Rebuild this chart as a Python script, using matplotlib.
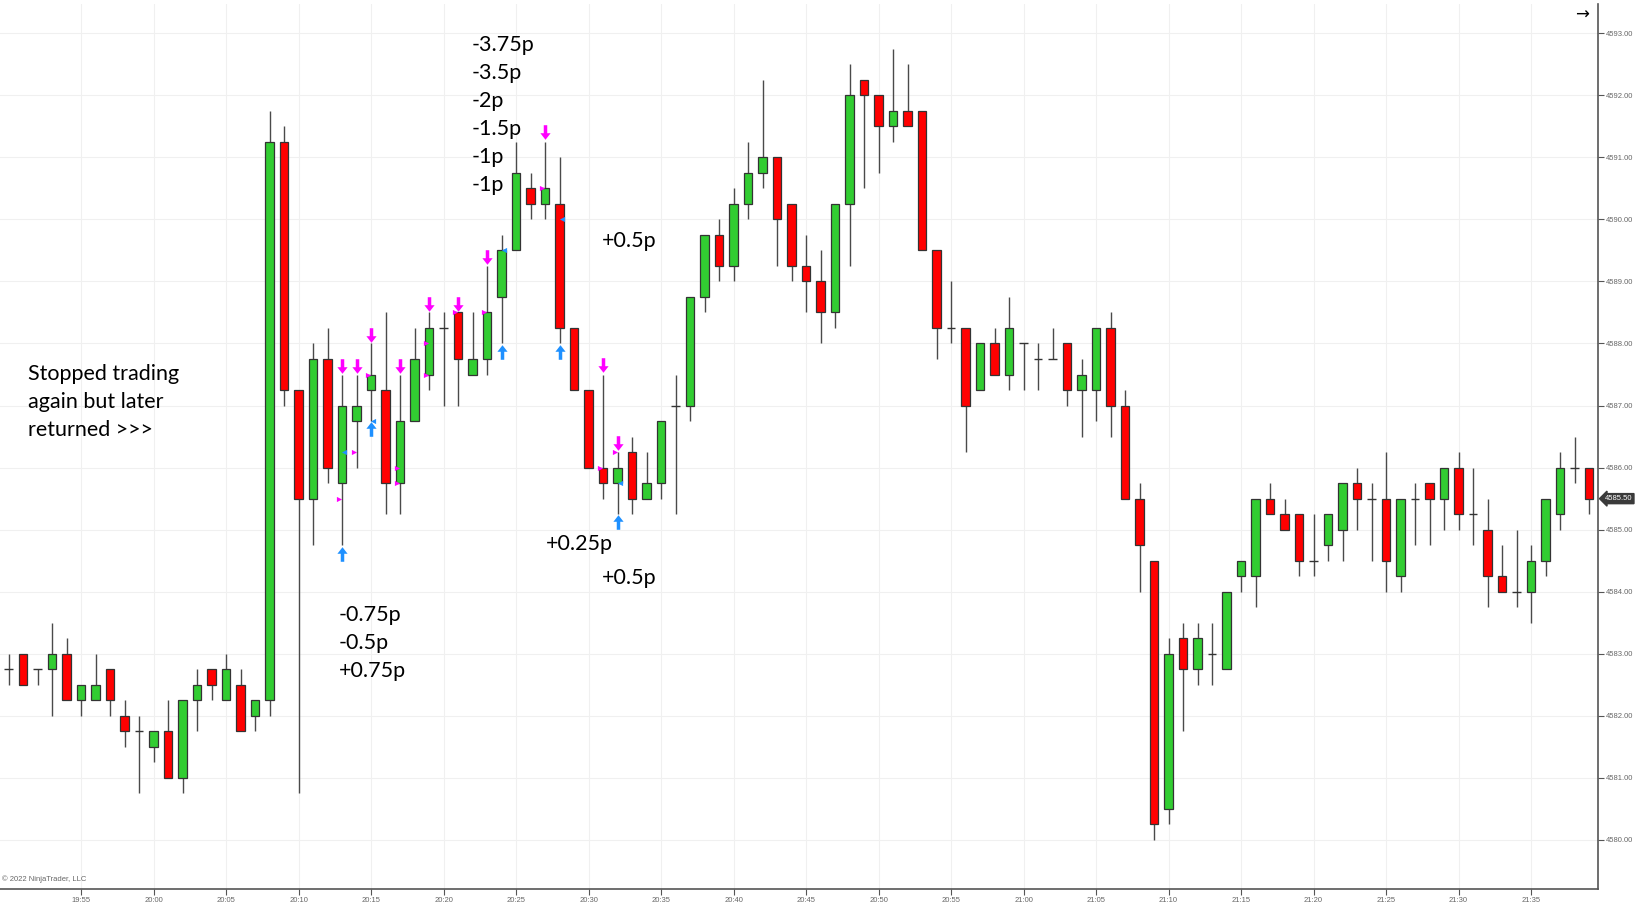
import matplotlib
matplotlib.use("Agg")
import matplotlib.pyplot as plt
import numpy as np
import pandas as pd
from matplotlib.path import Path

# 1-minute bars, 19:50 .. 21:39
bar_times = pd.date_range("2022-01-01 19:50", periods=110, freq="min")

opens = [
    4582.75, 4583, 4582.75, 4582.75, 4583, 4582.25, 4582.25, 4582.75, 4582, 4581.75,
    4581.5, 4581.75, 4581, 4582.25, 4582.75, 4582.25, 4582.5, 4582, 4582.25, 4591.25,
    4587.25, 4585.5, 4587.75, 4585.75, 4586.75, 4587.25, 4587.25, 4585.75, 4586.75, 4587.5,
    4588.25, 4588.5, 4587.5, 4587.75, 4588.75, 4589.5, 4590.5, 4590.25, 4590.25, 4588.25,
    4587.25, 4586, 4585.75, 4586.25, 4585.5, 4585.75, 4587, 4587, 4588.75, 4589.75,
    4589.25, 4590.25, 4590.75, 4591, 4590.25, 4589.25, 4589, 4588.5, 4590.25, 4592.25,
    4592, 4591.5, 4591.75, 4591.75, 4589.5, 4588.25, 4588.25, 4587.25, 4588, 4587.5,
    4588, 4587.75, 4587.75, 4588, 4587.25, 4587.25, 4588.25, 4587, 4585.5, 4584.5,
    4580.5, 4583.25, 4582.75, 4583, 4582.75, 4584.25, 4584.25, 4585.5, 4585.25, 4585.25,
    4584.5, 4584.75, 4585, 4585.75, 4585.5, 4585.5, 4584.25, 4585.5, 4585.75, 4585.5,
    4586, 4585.25, 4585, 4584.25, 4584, 4584, 4584.5, 4585.25, 4586, 4586,
]
highs = [
    4583, 4583, 4582.75, 4583.5, 4583.25, 4582.5, 4583, 4582.75, 4582.25, 4582,
    4581.75, 4582.25, 4582.25, 4582.75, 4582.75, 4583, 4582.75, 4582.25, 4591.75, 4591.5,
    4587.25, 4588, 4588.25, 4587.5, 4587.5, 4588, 4588.5, 4587.5, 4588.25, 4588.5,
    4588.5, 4588.5, 4588.5, 4589.25, 4589.75, 4591.25, 4590.75, 4591.25, 4591, 4588.25,
    4587.25, 4587.5, 4586.25, 4586.5, 4586.25, 4586.75, 4587.5, 4588.75, 4589.75, 4590,
    4590.5, 4591.25, 4592.25, 4591, 4590.25, 4589.75, 4589.5, 4590.25, 4592.5, 4592.25,
    4592, 4592.75, 4592.5, 4591.75, 4589.5, 4589, 4588.25, 4588, 4588.25, 4588.75,
    4588, 4588, 4588.25, 4588, 4587.75, 4588.25, 4588.5, 4587.25, 4585.75, 4584.5,
    4583.25, 4583.5, 4583.5, 4583.5, 4584, 4584.5, 4585.5, 4585.75, 4585.5, 4585.25,
    4585.25, 4585.25, 4585.75, 4586, 4585.75, 4586.25, 4585.5, 4585.75, 4585.75, 4586,
    4586.25, 4586, 4585.5, 4584.75, 4585, 4584.75, 4585.5, 4586.25, 4586.5, 4586,
]
lows = [
    4582.5, 4582.5, 4582.5, 4582, 4582.25, 4582, 4582.25, 4582, 4581.5, 4580.75,
    4581.25, 4581, 4580.75, 4581.75, 4582.25, 4582.25, 4581.75, 4581.75, 4582, 4587,
    4580.75, 4584.75, 4585.75, 4584.75, 4586, 4586.75, 4585.25, 4585.25, 4586.75, 4587.25,
    4587, 4587, 4587.5, 4587.5, 4588, 4589.5, 4590, 4590, 4588, 4587.25,
    4586, 4585.5, 4585.25, 4585.25, 4585.5, 4585.5, 4585.25, 4586.75, 4588.5, 4589,
    4589, 4590, 4590.5, 4589.25, 4589, 4588.5, 4588, 4588.25, 4589.25, 4590.5,
    4590.75, 4591.25, 4591.5, 4589.5, 4587.75, 4588, 4586.25, 4587.25, 4587.5, 4587.25,
    4587.25, 4587.25, 4587.75, 4587, 4586.5, 4586.75, 4586.5, 4585.5, 4584, 4580,
    4580.25, 4581.75, 4582.5, 4582.5, 4582.75, 4584, 4583.75, 4585.25, 4585, 4584.25,
    4584.25, 4584.5, 4584.5, 4585, 4584.5, 4584, 4584, 4584.75, 4584.75, 4585,
    4585, 4584.75, 4583.75, 4584, 4583.75, 4583.5, 4584.25, 4585, 4585.75, 4585.25,
]
closes = [
    4582.75, 4582.5, 4582.75, 4583, 4582.25, 4582.5, 4582.5, 4582.25, 4581.75, 4581.75,
    4581.75, 4581, 4582.25, 4582.5, 4582.5, 4582.75, 4581.75, 4582.25, 4591.25, 4587.25,
    4585.5, 4587.75, 4586, 4587, 4587, 4587.5, 4585.75, 4586.75, 4587.75, 4588.25,
    4588.25, 4587.75, 4587.75, 4588.5, 4589.5, 4590.75, 4590.25, 4590.5, 4588.25, 4587.25,
    4586, 4585.75, 4586, 4585.5, 4585.75, 4586.75, 4587, 4588.75, 4589.75, 4589.25,
    4590.25, 4590.75, 4591, 4590, 4589.25, 4589, 4588.5, 4590.25, 4592, 4592,
    4591.5, 4591.75, 4591.5, 4589.5, 4588.25, 4588.25, 4587, 4588, 4587.5, 4588.25,
    4588, 4587.75, 4587.75, 4587.25, 4587.5, 4588.25, 4587, 4585.5, 4584.75, 4580.25,
    4583, 4582.75, 4583.25, 4583, 4584, 4584.5, 4585.5, 4585.25, 4585, 4584.5,
    4584.5, 4585.25, 4585.75, 4585.5, 4585.5, 4584.5, 4585.5, 4585.5, 4585.5, 4586,
    4585.25, 4585.25, 4584.25, 4584, 4584, 4584.5, 4585.5, 4586, 4586, 4585.5,
]

# strategy markers (time, price)
sell_arrow_t = ["20:13", "20:14", "20:15", "20:17", "20:19", "20:21", "20:23", "20:27", "20:31", "20:32"]
sell_arrow_y = [4587.63, 4587.63, 4588.13, 4587.63, 4588.64, 4588.64, 4589.39, 4591.4, 4587.65, 4586.39]
buy_arrow_t = ["20:13", "20:15", "20:24", "20:28", "20:32"]
buy_arrow_y = [4584.61, 4586.62, 4587.87, 4587.87, 4585.12]
exit_short_t = ["20:13", "20:14", "20:15", "20:17", "20:17", "20:19", "20:19", "20:21", "20:23", "20:27", "20:31", "20:32"]
exit_short_y = [4585.5, 4586.25, 4587.5, 4586, 4585.75, 4588, 4587.5, 4588.5, 4588.5, 4590.5, 4586, 4586.25]
exit_long_t = ["20:13", "20:15", "20:24", "20:28", "20:32"]
exit_long_y = [4586.25, 4586.75, 4589.5, 4590, 4585.75]

# text notes: (text, x px, y px)
notes = [
    ("-3.75p", 472, 45), ("-3.5p", 472, 73), ("-2p", 472, 101),
    ("-1.5p", 472, 129), ("-1p", 472, 157), ("-1p", 472, 185),
    ("+0.5p", 602, 241), ("+0.25p", 546, 544), ("+0.5p", 602, 578),
    ("-0.75p", 339, 615), ("-0.5p", 339, 643), ("+0.75p", 339, 671),
    ("Stopped trading", 28, 374), ("again but later", 28, 402), ("returned >>>", 28, 430),
]

W, H = 1636, 907
small_font = ["Liberation Sans", "DejaVu Sans"]
fig = plt.figure(figsize=(W / 100, H / 100), dpi=100)
ax = fig.add_axes([0, 1 - 889 / H, 1598 / W, 885 / H])

t0 = bar_times[0]
def idx(hhmm):
    t = pd.Timestamp("2022-01-01 " + hhmm)
    return (t - t0).total_seconds() / 60

x = np.arange(len(bar_times))
o = np.array(opens); h = np.array(highs); l = np.array(lows); c = np.array(closes)

up = c > o
dn = c < o
flat = c == o

# wicks
ax.vlines(x, l, h, color="#4a4a4a", lw=1.0, zorder=2)
# bodies
body_w = 0.57
ax.bar(x[up], (c - o)[up], bottom=o[up], width=body_w, color="#32cd32",
       edgecolor="#333333", linewidth=0.9, zorder=3)
ax.bar(x[dn], (o - c)[dn], bottom=c[dn], width=body_w, color="#ff0000",
       edgecolor="#333333", linewidth=0.9, zorder=3)
ax.hlines(c[flat], x[flat] - body_w / 2, x[flat] + body_w / 2, color="#333333", lw=1.0, zorder=3)

# arrow markers
down_arrow = Path([(-0.12, 0.5), (0.12, 0.5), (0.12, -0.05), (0.35, -0.05), (0, -0.5),
                   (-0.35, -0.05), (-0.12, -0.05), (-0.12, 0.5)])
up_arrow = Path([(vx, -vy) for vx, vy in down_arrow.vertices])
ax.scatter([idx(t) for t in sell_arrow_t], sell_arrow_y, marker=down_arrow, s=110,
           color="#ff00ff", linewidths=0, zorder=5)
ax.scatter([idx(t) for t in buy_arrow_t], buy_arrow_y, marker=up_arrow, s=110,
           color="#1e90ff", linewidths=0, zorder=5)
ax.scatter([idx(t) - 0.2 for t in exit_short_t], exit_short_y, marker=">", s=14,
           color="#ff00ff", linewidths=0, zorder=5)
ax.scatter([idx(t) + 0.15 for t in exit_long_t], exit_long_y, marker="<", s=14,
           color="#1e90ff", linewidths=0, zorder=5)

# axes styling
ax.set_xlim(-0.59, 109.62)
ax.set_ylim(4579.21, 4593.47)
for s in ["left", "top"]:
    ax.spines[s].set_visible(False)
for s in ["right", "bottom"]:
    ax.spines[s].set_color("#555555")
    ax.spines[s].set_linewidth(1.2)

ax.yaxis.tick_right()
yt = np.arange(4580, 4594)
ax.set_yticks(yt)
ax.set_yticklabels(["%.2f" % v for v in yt])
xt = np.arange(5, 110, 5)
ax.set_xticks(xt)
ax.set_xticklabels([bar_times[i].strftime("%H:%M") for i in xt])
ax.tick_params(axis="both", colors="#555555", length=4, width=0.8, labelsize=5.5,
               labelcolor="#666666", pad=2)
for lab in ax.get_xticklabels() + ax.get_yticklabels():
    lab.set_family(small_font)
ax.grid(True, color="#f0f0f0", lw=0.8, zorder=0)
ax.set_axisbelow(True)

# last price tag
ax.annotate("%.2f" % closes[-1], xy=(1.0, closes[-1]), xycoords=("axes fraction", "data"),
            xytext=(5, 0), textcoords="offset points", va="center", ha="left",
            fontsize=5.5, color="white", family=small_font,
            bbox=dict(boxstyle="larrow,pad=0.2", fc="#3a3a3a", ec="#3a3a3a"),
            annotation_clip=False)

for txt, px, py in notes:
    fig.text(px / W, 1 - py / H, txt, fontsize=15.5, family=["Lato", "DejaVu Sans"],
             va="center", ha="left", color="black")

fig.text(2 / W, 1 - 879 / H, "\u00a9 2022 NinjaTrader, LLC", fontsize=5.5, color="#666666",
         family=small_font, va="center")
fig.text(1582 / W, 1 - 15 / H, "\u2192", fontsize=12, color="black", ha="center", va="center")

fig.savefig("out.png", dpi=100)
